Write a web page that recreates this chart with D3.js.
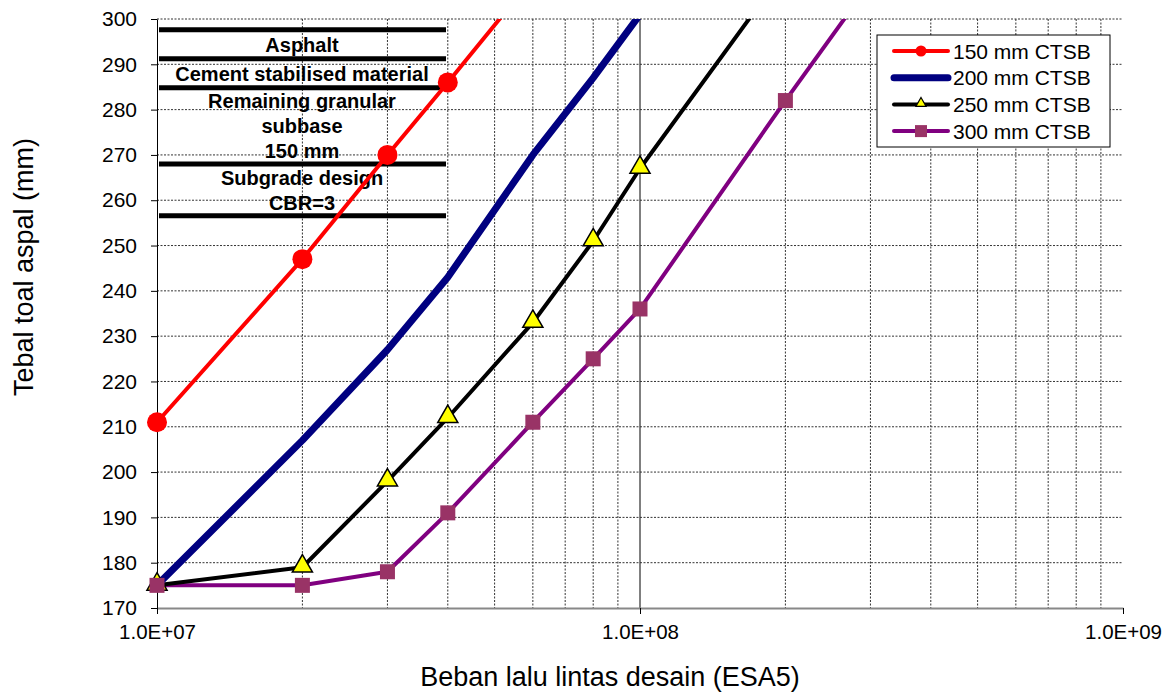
<!DOCTYPE html>
<html><head><meta charset="utf-8">
<script src="https://cdn.jsdelivr.net/npm/d3@7"></script>
<style>body{margin:0;background:#fff}svg{display:block;font-family:"Liberation Sans",Arial,sans-serif}</style>
</head><body><svg id="c" width="1175" height="696"></svg>
<script>
const loads150 = [1e7, 2e7, 3e7, 4e7, 6e7];
const thick150 = [211, 247, 270, 286, 309];
const loads200 = [1e7, 2e7, 3e7, 4e7, 6e7, 8e7, 1e8];
const thick200 = [175, 207, 227, 243, 270, 287, 301];
const loads250 = [1e7, 2e7, 3e7, 4e7, 6e7, 8e7, 1e8, 2e8];
const thick250 = [175, 179, 198, 212, 233, 251, 267, 311];
const loads300 = [1e7, 2e7, 3e7, 4e7, 6e7, 8e7, 1e8, 2e8, 3e8];
const thick300 = [175, 175, 178, 191, 211, 225, 236, 282, 308];
const seriesNames = ["150 mm CTSB", "200 mm CTSB", "250 mm CTSB", "300 mm CTSB"];
const yTicks = [170,180,190,200,210,220,230,240,250,260,270,280,290,300];
const xTickLabels = ["1.0E+07", "1.0E+08", "1.0E+09"];
const layerLines = [297.6, 291.2, 284.8, 268.0, 256.6];
const layerTexts = [["Asphalt"], ["Cement stabilised material"], ["Remaining granular", "subbase", "150 mm"], ["Subgrade design", "CBR=3"]];
const xTitle = "Beban lalu lintas desain (ESA5)";
const yTitle = "Tebal toal aspal (mm)";

const svg = d3.select("#c");
const L = 157, R = 1123, T = 19, B = 608;
const x = d3.scaleLog().domain([1e7, 1e9]).range([L, R]);
const y = d3.scaleLinear().domain([170, 300]).range([B, T]);

svg.append("clipPath").attr("id","clip").append("rect").attr("x",L-15).attr("y",T).attr("width",R-L+30).attr("height",B-T+15);

// vertical minor grid
const minor = [];
[1e7,1e8].forEach(d => { for (let k=2;k<=9;k++) minor.push(d*k); });
svg.append("g").selectAll("line").data(minor).join("line")
  .attr("x1",d=>x(d)).attr("x2",d=>x(d)).attr("y1",T).attr("y2",B)
  .attr("stroke","#333").attr("stroke-width",1).attr("stroke-dasharray","2,1.5");
svg.append("line").attr("x1",x(1e8)).attr("x2",x(1e8)).attr("y1",T).attr("y2",B).attr("stroke","#000").attr("stroke-width",1);
svg.append("g").selectAll("line").data(yTicks.filter(v=>v>170)).join("line")
  .attr("x1",L).attr("x2",R).attr("y1",d=>y(d)).attr("y2",d=>y(d))
  .attr("stroke","#333").attr("stroke-width",1).attr("stroke-dasharray","2,1.5");

// x axis
const xAxis = d3.axisBottom(x).tickValues([1e7,1e8,1e9]).tickFormat((d,i)=>xTickLabels[i]).tickSize(6).tickSizeOuter(0).tickPadding(10);
const gx = svg.append("g").attr("transform",`translate(0,${B})`).call(xAxis);
gx.attr("font-family",null).attr("font-size",null);
gx.select(".domain").attr("stroke","#888").attr("stroke-width",2);
gx.selectAll(".tick line").attr("stroke","#000");
gx.selectAll("text").attr("font-size",20.5).attr("fill","#000");

// y axis
const yAxis = d3.axisLeft(y).tickValues(yTicks).tickSize(6).tickSizeOuter(0).tickPadding(14);
const gy = svg.append("g").attr("transform",`translate(${L},0)`).call(yAxis);
gy.attr("font-family",null).attr("font-size",null);
gy.select(".domain").attr("stroke","#000").attr("stroke-width",1);
gy.selectAll(".tick line").attr("stroke","#000");
gy.selectAll("text").attr("font-size",21).attr("fill","#000");

// titles
svg.append("text").attr("x",610).attr("y",686).attr("text-anchor","middle").attr("font-size",27).text(xTitle);
svg.append("text").attr("transform","translate(33,267) rotate(-90)").attr("text-anchor","middle").attr("font-size",27).text(yTitle);

// layer annotation lines
const ax1 = 159, ax2 = 446, axc = 302;
svg.append("g").selectAll("line").data(layerLines).join("line")
  .attr("x1",ax1).attr("x2",ax2).attr("y1",d=>y(d)).attr("y2",d=>y(d))
  .attr("stroke","#000").attr("stroke-width",5);
const tg = svg.append("g").attr("font-weight","bold").attr("font-size",20).attr("text-anchor","middle");
layerTexts.forEach((lines,i)=>{
  const top = y(layerLines[i]), bot = y(layerLines[i+1]);
  const mid = (top+bot)/2;
  const lh = 25;
  lines.forEach((s,j)=>{
    tg.append("text").attr("x",axc).attr("y",mid + (j-(lines.length-1)/2)*lh).attr("dy","0.36em").text(s);
  });
});

// series
const plot = svg.append("g").attr("clip-path","url(#clip)");
const line = d3.line().x(d=>x(d[0])).y(d=>y(d[1]));
const zip = (a,b)=>a.map((v,i)=>[v,b[i]]);
const s150 = zip(loads150,thick150), s200 = zip(loads200,thick200), s250 = zip(loads250,thick250), s300 = zip(loads300,thick300);

plot.append("path").datum(s300).attr("d",line).attr("fill","none").attr("stroke","#800080").attr("stroke-width",4).attr("stroke-linejoin","round");
plot.append("path").datum(s250).attr("d",line).attr("fill","none").attr("stroke","#000").attr("stroke-width",4).attr("stroke-linejoin","round");
plot.append("path").datum(s200).attr("d",line).attr("fill","none").attr("stroke","#000080").attr("stroke-width",7).attr("stroke-linejoin","round");
plot.append("path").datum(s150).attr("d",line).attr("fill","none").attr("stroke","#ff0000").attr("stroke-width",4).attr("stroke-linejoin","round");

const tri = d3.symbol().type(d3.symbolTriangle).size(175);
plot.append("g").selectAll("path").data(s250).join("path")
  .attr("transform",d=>`translate(${x(d[0])},${y(d[1])-1})`).attr("d",tri)
  .attr("fill","#ffff00").attr("stroke","#000").attr("stroke-width",1.5);
plot.append("g").selectAll("rect").data(s300).join("rect")
  .attr("x",d=>x(d[0])-7.5).attr("y",d=>y(d[1])-7.5).attr("width",15).attr("height",15)
  .attr("fill","#993366");
plot.append("g").selectAll("circle").data(s150).join("circle")
  .attr("cx",d=>x(d[0])).attr("cy",d=>y(d[1])).attr("r",10).attr("fill","#ff0000");

// legend
const lg = svg.append("g").attr("transform","translate(877,35)");
lg.append("rect").attr("width",233).attr("height",112).attr("fill","#fff").attr("stroke","#000").attr("stroke-width",1);
const lstyles = [
  {c:"#ff0000", w:4, m:"circle"},
  {c:"#000080", w:7, m:null},
  {c:"#000", w:4, m:"tri"},
  {c:"#800080", w:4, m:"sq"}
];
seriesNames.forEach((n,i)=>{
  const yy = 16 + i*26.7;
  const st = lstyles[i];
  lg.append("line").attr("x1",17).attr("x2",71).attr("y1",yy).attr("y2",yy).attr("stroke",st.c).attr("stroke-width",st.w).attr("stroke-linecap","round");
  if (st.m==="circle") lg.append("circle").attr("cx",44).attr("cy",yy).attr("r",5.5).attr("fill","#ff0000");
  if (st.m==="tri") lg.append("path").attr("transform",`translate(44,${yy-1})`).attr("d",d3.symbol().type(d3.symbolTriangle).size(45)).attr("fill","#ff0").attr("stroke","#000").attr("stroke-width",1.2);
  if (st.m==="sq") lg.append("rect").attr("x",38).attr("y",yy-6).attr("width",12).attr("height",12).attr("fill","#993366");
  lg.append("text").attr("x",76).attr("y",yy).attr("dy","0.36em").attr("font-size",21).text(n);
});
</script></body></html>
